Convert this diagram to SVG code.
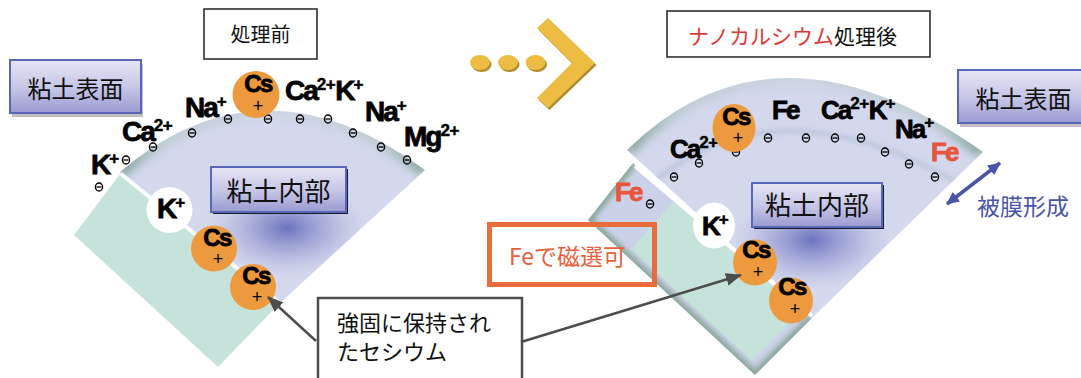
<svg xmlns="http://www.w3.org/2000/svg" width="1081" height="378" viewBox="0 0 1081 378">
  <style>
    .jp{font-family:"Noto Sans CJK JP","Noto Sans CJK SC",sans-serif;fill:#111}
    .ionL{font-family:"Liberation Sans",Arial,sans-serif;font-weight:bold;font-size:28px;letter-spacing:-2px;fill:#000;stroke:#000;stroke-width:0.8px}
    .ionR{font-family:"Liberation Sans",Arial,sans-serif;font-weight:bold;font-size:26px;letter-spacing:-2px;fill:#000;stroke:#000;stroke-width:0.8px}
    .sup{font-size:17px;letter-spacing:-0.5px;stroke-width:0.5px}
    .cs{font-family:"Liberation Sans",Arial,sans-serif;font-weight:bold;font-size:24px;letter-spacing:-1.5px;text-anchor:middle;fill:#000;stroke:#000;stroke-width:0.8px}
    .plus{font-family:"Liberation Sans",Arial,sans-serif;font-size:18px;text-anchor:middle;fill:#000}
    .fe{fill:#e8553c;stroke:#e8553c}
    .orange{fill:#ed9a3e}
    .clay{fill:#d3d8ed}
    .base{fill:#c5e3db}
    .coat{fill:#cad1e8}
    .label{fill:url(#boxGrad);stroke:#5a66b6;stroke-width:2}
    .plain{fill:#fff;stroke:#222;stroke-width:1.5}
    .callout{stroke:#4d4d4d;stroke-width:2.5;fill:none}
  </style>
  <defs>
    <linearGradient id="boxGrad" x1="0" y1="0" x2="0" y2="1">
      <stop offset="0" stop-color="#e6e6f5"/>
      <stop offset="0.55" stop-color="#c4c4e6"/>
      <stop offset="1" stop-color="#9a9ad2"/>
    </linearGradient>
    <radialGradient id="spot">
      <stop offset="0" stop-color="#5a5fb8" stop-opacity="0.85"/>
      <stop offset="0.5" stop-color="#7c80c6" stop-opacity="0.45"/>
      <stop offset="1" stop-color="#9ea3d6" stop-opacity="0"/>
    </radialGradient>
    <linearGradient id="rimL" gradientUnits="userSpaceOnUse" x1="120" y1="0" x2="425" y2="0">
      <stop offset="0" stop-color="#86a29a"/>
      <stop offset="0.15" stop-color="#a9c1ba" stop-opacity="0.5"/>
      <stop offset="0.5" stop-color="#b6cbc5" stop-opacity="0.25"/>
      <stop offset="0.85" stop-color="#a9c1ba" stop-opacity="0.5"/>
      <stop offset="1" stop-color="#86a29a"/>
    </linearGradient>
    <linearGradient id="rimR" gradientUnits="userSpaceOnUse" x1="627" y1="0" x2="983" y2="0">
      <stop offset="0" stop-color="#86a29a"/>
      <stop offset="0.15" stop-color="#a9c1ba" stop-opacity="0.5"/>
      <stop offset="0.5" stop-color="#b6cbc5" stop-opacity="0.3"/>
      <stop offset="0.85" stop-color="#a9c1ba" stop-opacity="0.5"/>
      <stop offset="1" stop-color="#86a29a"/>
    </linearGradient>
    <filter id="soft" x="-20%" y="-20%" width="140%" height="140%">
      <feGaussianBlur stdDeviation="4"/>
    </filter>
    <filter id="soft2" x="-20%" y="-20%" width="140%" height="140%">
      <feGaussianBlur stdDeviation="2.5"/>
    </filter>
    <clipPath id="fanLClip"><path d="M120,172 Q262,50 425,170 L280,303 Z"/></clipPath>
    <clipPath id="fanRClip"><path d="M627,150 Q775,5 983,152 L812,318 Z"/></clipPath>
    <clipPath id="sqRClip"><path d="M633,163 L588,220 L755,375 L812,318 Z"/></clipPath>
    <symbol id="neg" viewBox="-5 -5 10 10" width="10" height="10" overflow="visible">
      <ellipse cx="0" cy="0" rx="3.6" ry="4" fill="none" stroke="#000" stroke-width="1.3"/>
      <line x1="-2.6" y1="0" x2="2.6" y2="0" stroke="#000" stroke-width="1.3"/>
    </symbol>
    <marker id="ah" viewBox="0 0 16 13" refX="15" refY="6.5" markerWidth="16" markerHeight="13" markerUnits="userSpaceOnUse" orient="auto">
      <path d="M0,0 L16,6.5 L0,13 Z" fill="#4d4d4d"/>
    </marker>
    <marker id="bh" viewBox="0 0 13 12" refX="12" refY="6" markerWidth="13" markerHeight="12" markerUnits="userSpaceOnUse" orient="auto-start-reverse">
      <path d="M0,0 L13,6 L0,12 Z" fill="#4a55a8"/>
    </marker>
  </defs>

  <!-- ===== before treatment ===== -->
  <g id="clay-before">
    <path class="base" d="M121,173 L74,235 L218,367 L280,303 Z"/>
    <path class="clay" d="M120,172 Q262,50 425,170 L280,303 Z"/>
    <g clip-path="url(#fanLClip)">
      <path d="M120,172 Q262,50 425,170" fill="none" stroke="url(#rimL)" stroke-width="14" filter="url(#soft)"/>
      <ellipse cx="287" cy="228" rx="78" ry="48" fill="url(#spot)"/>
    </g>
    <line x1="121" y1="174" x2="280" y2="303" stroke="#fff" stroke-width="4"/>
  </g>

  <g id="title-before">
    <rect class="plain" x="204" y="9" width="113" height="50"/>
    <text class="jp" x="260.5" y="42" font-size="20" text-anchor="middle">処理前</text>
  </g>

  <g id="surface-label-left">
    <rect x="12" y="64" width="131" height="53" fill="#8d8d8d" opacity="0.55"/>
    <rect class="label" x="10" y="60" width="131" height="53"/>
    <text class="jp" x="75.5" y="98" font-size="24" text-anchor="middle">粘土表面</text>
  </g>

  <g id="interior-label-left">
    <rect x="213" y="169" width="135" height="45" fill="#1a1a2a"/>
    <rect class="label" x="211" y="167" width="135" height="45"/>
    <text class="jp" x="278.5" y="201" font-size="26" text-anchor="middle">粘土内部</text>
  </g>

  <g id="charges-before">
    <use href="#neg" x="223" y="114"/>
    <use href="#neg" x="263" y="114"/>
    <use href="#neg" x="295" y="114"/>
    <use href="#neg" x="323" y="114"/>
    <use href="#neg" x="187" y="128"/>
    <use href="#neg" x="148" y="142"/>
    <use href="#neg" x="121" y="155"/>
    <use href="#neg" x="94" y="182"/>
    <use href="#neg" x="348" y="128"/>
    <use href="#neg" x="376" y="142"/>
    <use href="#neg" x="402" y="155"/>
  </g>

  <g id="ions-before">
    <text class="ionL" x="185" y="117">Na<tspan class="sup" dy="-10">+</tspan></text>
    <text class="ionL" x="285" y="100">Ca<tspan class="sup" dy="-10">2+</tspan><tspan dy="10">K</tspan><tspan class="sup" dy="-10">+</tspan></text>
    <text class="ionL" x="365" y="121">Na<tspan class="sup" dy="-10">+</tspan></text>
    <text class="ionL" x="404" y="146">Mg<tspan class="sup" dy="-10">2+</tspan></text>
    <text class="ionL" x="122" y="141">Ca<tspan class="sup" dy="-10">2+</tspan></text>
    <text class="ionL" x="91" y="174">K<tspan class="sup" dy="-10">+</tspan></text>
  </g>

  <g id="cs-top-before">
    <circle class="orange" cx="256" cy="94.5" r="23.5"/>
    <text class="cs" x="258" y="92">Cs</text>
    <text class="plus" x="258" y="112">+</text>
  </g>
  <g id="k-before">
    <circle cx="169.5" cy="210" r="23" fill="#fff"/>
    <text class="ionL" x="157" y="218">K<tspan class="sup" dy="-10">+</tspan></text>
  </g>
  <g id="cs1-before">
    <circle class="orange" cx="214" cy="248.5" r="23"/>
    <text class="cs" x="217" y="246">Cs</text>
    <text class="plus" x="218" y="265">+</text>
  </g>
  <g id="cs2-before">
    <circle class="orange" cx="253" cy="287" r="23"/>
    <text class="cs" x="256" y="284">Cs</text>
    <text class="plus" x="257" y="303">+</text>
  </g>

  <!-- ===== transition arrow ===== -->
  <g id="transition">
    <g transform="translate(1.5,2)" fill="#b08c2c">
      <ellipse cx="480" cy="62.5" rx="10" ry="7.5"/>
      <ellipse cx="508" cy="62.5" rx="10" ry="7.5"/>
      <ellipse cx="535.5" cy="62.5" rx="10" ry="7.5"/>
      <polygon points="537,28 548,18 595,63 548,108 537,98 572,63"/>
    </g>
    <g fill="#ecbd42">
      <ellipse cx="480" cy="62.5" rx="10" ry="7.5"/>
      <ellipse cx="508" cy="62.5" rx="10" ry="7.5"/>
      <ellipse cx="535.5" cy="62.5" rx="10" ry="7.5"/>
      <polygon points="537,28 548,18 595,63 548,108 537,98 572,63"/>
    </g>
  </g>

  <!-- ===== after treatment ===== -->
  <g id="clay-after">
    <path class="clay" d="M627,150 Q775,5 983,152 L812,318 Z"/>
    <g clip-path="url(#fanRClip)">
      <path d="M627,150 Q775,5 983,152" fill="none" stroke="url(#rimR)" stroke-width="14" filter="url(#soft)"/>
      <path d="M655,181 Q775,81 955,181" fill="none" stroke="#b9c3d8" stroke-width="4" filter="url(#soft2)"/>
      <ellipse cx="812" cy="240" rx="78" ry="48" fill="url(#spot)"/>
    </g>
    <path class="coat" d="M633,163 L588,220 L755,375 L812,318 Z"/>
    <g clip-path="url(#sqRClip)">
      <path d="M633,163 L588,220 L755,375 L812,318" fill="none" stroke="#8ea89f" stroke-width="9" filter="url(#soft2)"/>
    </g>
    <path class="base" d="M675,200 L631,249 L752,361 L804,309 Z"/>
    <line x1="635" y1="166" x2="812" y2="316" stroke="#fff" stroke-width="4"/>
  </g>

  <g id="title-after">
    <rect class="plain" x="667" y="11" width="263" height="46"/>
    <text class="jp" x="688" y="44" font-size="21"><tspan fill="#e03838">ナノカルシウム</tspan>処理後</text>
  </g>

  <g id="surface-label-right">
    <rect x="960" y="74" width="131" height="53" fill="#8d8d8d" opacity="0.55"/>
    <rect class="label" x="958" y="70" width="131" height="53"/>
    <text class="jp" x="1023.5" y="108" font-size="24" text-anchor="middle">粘土表面</text>
  </g>

  <g id="interior-label-right">
    <rect x="754" y="185" width="130" height="44" fill="#1a1a2a"/>
    <rect class="label" x="752" y="183" width="130" height="44"/>
    <text class="jp" x="817" y="215" font-size="26" text-anchor="middle">粘土内部</text>
  </g>

  <g id="charges-after">
    <use href="#neg" x="763" y="133"/>
    <use href="#neg" x="801" y="133"/>
    <use href="#neg" x="830" y="133"/>
    <use href="#neg" x="856" y="133"/>
    <use href="#neg" x="880" y="147"/>
    <use href="#neg" x="904" y="159"/>
    <use href="#neg" x="930" y="172"/>
    <use href="#neg" x="731" y="147"/>
    <use href="#neg" x="694" y="158"/>
    <use href="#neg" x="669" y="172"/>
    <use href="#neg" x="645" y="199"/>
  </g>

  <g id="ions-after">
    <text class="ionR" x="670" y="158">Ca<tspan class="sup" dy="-10">2+</tspan></text>
    <text class="ionR" x="772" y="119">Fe</text>
    <text class="ionR" x="821" y="119">Ca<tspan class="sup" dy="-10">2+</tspan><tspan dy="10">K</tspan><tspan class="sup" dy="-10">+</tspan></text>
    <text class="ionR" x="895" y="138">Na<tspan class="sup" dy="-10">+</tspan></text>
    <text class="ionR fe" x="931" y="161">Fe</text>
    <text class="ionR fe" x="615" y="201">Fe</text>
  </g>

  <g id="cs-top-after">
    <ellipse class="orange" cx="734" cy="128" rx="21.5" ry="24"/>
    <text class="cs" x="736" y="125">Cs</text>
    <text class="plus" x="738" y="144">+</text>
  </g>
  <g id="k-after">
    <ellipse cx="714" cy="225.5" rx="21" ry="23" fill="#fff"/>
    <text class="ionR" x="702" y="235">K<tspan class="sup" dy="-10">+</tspan></text>
  </g>
  <g id="cs1-after">
    <ellipse class="orange" cx="755" cy="262.5" rx="22" ry="23"/>
    <text class="cs" x="756" y="258">Cs</text>
    <text class="plus" x="758" y="278">+</text>
  </g>
  <g id="cs2-after">
    <ellipse class="orange" cx="791" cy="300.5" rx="22" ry="23"/>
    <text class="cs" x="792" y="295">Cs</text>
    <text class="plus" x="795" y="315">+</text>
  </g>

  <g id="film-note">
    <text class="jp" x="977" y="215" font-size="23" style="fill:#4a55a8">被膜形成</text>
  </g>

  <g id="magnetic-note">
    <rect x="489.5" y="224.5" width="165" height="60" fill="none" stroke="#e86c3c" stroke-width="5"/>
    <text class="jp" x="509" y="265" font-size="23" style="fill:#e8603a">Feで磁選可</text>
  </g>

  <g id="retained-note">
    <rect x="318" y="298" width="204" height="100" fill="#fff" stroke="#4d4d4d" stroke-width="2.5"/>
    <text class="jp" x="337" y="331" font-size="22">強固に保持され</text>
    <text class="jp" x="337" y="360" font-size="22">たセシウム</text>
  </g>

  <g id="connectors">
    <line class="callout" x1="316" y1="341" x2="268" y2="297" marker-end="url(#ah)"/>
    <line class="callout" x1="521" y1="342" x2="741" y2="275" marker-end="url(#ah)"/>
    <line x1="947" y1="204" x2="1000" y2="163" stroke="#4a55a8" stroke-width="3.5" marker-start="url(#bh)" marker-end="url(#bh)"/>
  </g>
</svg>
